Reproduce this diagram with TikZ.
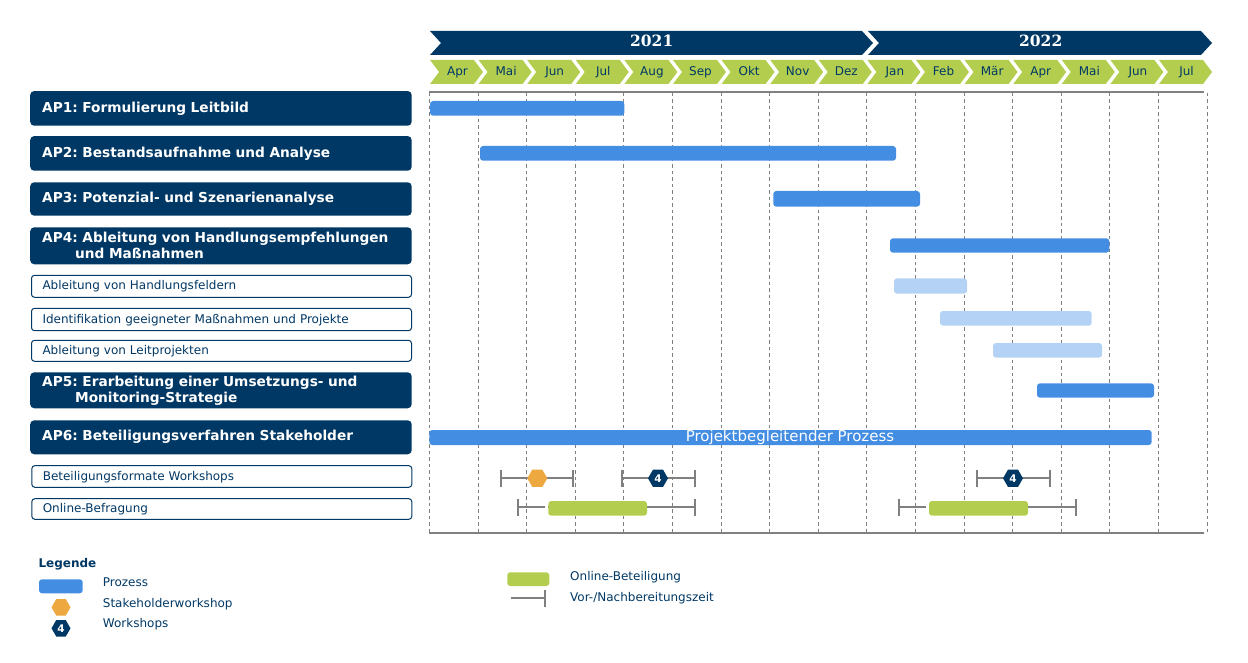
\documentclass[tikz,border=0pt]{standalone}
\usepackage{fontspec}
\setmainfont{DejaVu Sans}
\newfontfamily\yearfont{DejaVu Serif}
\usetikzlibrary{shapes.geometric}
\definecolor{navy}{HTML}{003865}
\definecolor{lgreen}{HTML}{B3CE4E}
\definecolor{barblue}{HTML}{438DE2}
\definecolor{lightblue}{HTML}{B4D2F5}
\definecolor{orng}{HTML}{EDA83F}
\definecolor{grayl}{HTML}{808080}
\frenchspacing
\begin{document}
\begin{tikzpicture}[x=1pt,y=-1pt,
  darkbox/.style={fill=navy,draw=none,rounded corners=4pt,text=white,anchor=west,
    inner xsep=12pt,inner ysep=0pt,text width=357.5pt,align=left,
    font=\bfseries\fontsize{13.7}{16}\selectfont},
  whitebox/.style={fill=white,draw=navy,line width=1pt,rounded corners=3pt,text=navy,anchor=west,
    inner xsep=11pt,inner ysep=0pt,text width=358pt,align=left,
    text height=0.73em,text depth=0pt,font=\fontsize{12}{14}\selectfont},
  monthlbl/.style={text=navy,inner sep=0pt,text height=0.73em,text depth=0pt,font=\fontsize{12}{14}\selectfont},
  yearlbl/.style={text=white,inner sep=0pt,text height=0.73em,text depth=0pt,font=\yearfont\bfseries\fontsize{15.5}{17}\selectfont},
  leglbl/.style={text=navy,inner sep=0pt,anchor=west,text height=0.73em,text depth=0pt,font=\fontsize{12}{14}\selectfont},
  prozbar/.style={fill=barblue,rounded corners=3pt},
  subbar/.style={fill=lightblue,rounded corners=3pt},
  onlbar/.style={fill=lgreen,rounded corners=3pt},
  whisk/.style={draw=grayl,line width=2pt},
  grid/.style={draw=grayl,line width=1.1pt,dash pattern=on 3.5pt off 3pt},
  hexo/.style={regular polygon,regular polygon sides=6,minimum size=20pt,inner sep=0pt,fill=orng},
  hexn/.style={regular polygon,regular polygon sides=6,minimum size=20pt,inner sep=0pt,fill=navy,
    text=white,font=\bfseries\fontsize{10.5}{10.5}\selectfont}
]
\useasboundingbox (0,0) rectangle (1248,663);

% year bands
\fill[navy] (430,31) -- (862,31) -- (873,43) -- (862,55) -- (430,55) -- (441,43) -- cycle;
\fill[navy] (868,31) -- (1201,31) -- (1212,43) -- (1201,55) -- (868,55) -- (879,43) -- cycle;
\node[yearlbl] (y21) at (651.7,42.5) {2021};
\node[yearlbl] (y22) at (1040.7,42.5) {2022};

% month chevrons
\foreach \m [count=\k from 0] in {Apr,Mai,Jun,Jul,Aug,Sep,Okt,Nov,Dez,Jan,Feb,Mär,Apr,Mai,Jun,Jul}{
  \pgfmathsetmacro\L{430+48.6*\k}
  \fill[lgreen] (\L,60) -- ++(44,0) -- ++(9,12) -- ++(-9,12) -- ++(-44,0) -- ++(9,-12) -- cycle;
  \node[monthlbl] (m\k) at (\L+27.5,72) {\m};
}

% grid
\foreach \k in {0,...,16}{
  \draw[grid] ({429.5+48.6*\k},93) -- ({429.5+48.6*\k},532);
}
\draw[draw=grayl,line width=2.2pt] (429,92) -- (1204,92);
\draw[draw=grayl,line width=2.2pt] (429,533) -- (1204,533);

% left labels
\node[darkbox,minimum height=34.7pt,text height=0.73em,text depth=0pt] (ap1) at (30,108.4) {AP1: Formulierung Leitbild};
\node[darkbox,minimum height=34.7pt,text height=0.73em,text depth=0pt] (ap2) at (30,153.4) {AP2: Bestandsaufnahme und Analyse};
\node[darkbox,minimum height=33.4pt,text height=0.73em,text depth=0pt] (ap3) at (30,199) {AP3: Potenzial- und Szenarienanalyse};
\node[darkbox,minimum height=37pt] (ap4) at (30,245.8) {AP4: Ableitung von Handlungsempfehlungen\\\hspace*{33pt}und Maßnahmen};
\node[whitebox,minimum height=22pt] (hf) at (31,286.3) {Ableitung von Handlungsfeldern};
\node[whitebox,minimum height=22.4pt] (im) at (31,319.5) {Identifikation geeigneter Maßnahmen und Projekte};
\node[whitebox,minimum height=21pt] (lp) at (31,350.8) {Ableitung von Leitprojekten};
\node[darkbox,minimum height=36pt] (ap5) at (30,390.3) {AP5: Erarbeitung einer Umsetzungs- und\\\hspace*{33pt}Monitoring-Strategie};
\node[darkbox,minimum height=34pt,text height=0.73em,text depth=0pt] (ap6) at (30,437.3) {AP6: Beteiligungsverfahren Stakeholder};
\node[whitebox,minimum height=21.6pt] (bw) at (31.3,476.5) {Beteiligungsformate Workshops};
\node[whitebox,minimum height=20.6pt] (ob) at (31.3,509) {Online-Befragung};

% bars
\fill[prozbar] (430,101) rectangle (624.3,115.7);
\fill[prozbar] (480,146) rectangle (896,160.7);
\fill[prozbar] (773.3,191) rectangle (920,206.7);
\fill[prozbar] (890,238.3) rectangle (1109.3,252.7);
\fill[subbar] (894,278.3) rectangle (967,293.7);
\fill[subbar] (940,311) rectangle (1091.7,325.7);
\fill[subbar] (993,343) rectangle (1102,357.7);
\fill[prozbar] (1037,383.3) rectangle (1154,397.7);
\fill[prozbar] (429.3,430) rectangle (1151.7,445);
\node[text=white,inner sep=0pt,text height=0.73em,text depth=0pt,font=\fontsize{15}{17}\selectfont] (pbp) at (790,437.5) {Projektbegleitender Prozess};

% workshop whiskers
\coordinate (w1a) at (501,478.3); \coordinate (w1b) at (572.7,478.3);
\coordinate (w2a) at (622.3,478.3); \coordinate (w2b) at (695,478.3);
\coordinate (w3a) at (977,478.3); \coordinate (w3b) at (1050,478.3);
\foreach \a/\b in {w1a/w1b,w2a/w2b,w3a/w3b}{
  \draw[whisk] (\a) -- (\b);
  \draw[whisk] ([yshift=-8.5pt]\a) -- ([yshift=8.5pt]\a);
  \draw[whisk] ([yshift=-8.5pt]\b) -- ([yshift=8.5pt]\b);
}
\node[hexo] (h1) at (537.3,478.3) {};
\node[hexn] (h2) at (658,478.3) {4};
\node[hexn] (h3) at (1013,478.3) {4};

% online whiskers
\coordinate (o1a) at (518.3,507.3); \coordinate (o1b) at (695,507.3);
\coordinate (o2a) at (899,507.3); \coordinate (o2b) at (1076,507.3);
\foreach \a/\b in {o1a/o1b,o2a/o2b}{
  \draw[whisk] (\a) -- (\b);
  \draw[whisk] ([yshift=-8.7pt]\a) -- ([yshift=8.7pt]\a);
  \draw[whisk] ([yshift=-8.7pt]\b) -- ([yshift=8.7pt]\b);
}
\fill[white] (545,505) rectangle (548.3,510);
\fill[onlbar] (548.3,501) rectangle (647,515.7);
\fill[white] (926,505) rectangle (929,510);
\fill[onlbar] (929,501) rectangle (1028,515.7);

% legend
\node[text=navy,inner sep=0pt,anchor=west,text height=0.73em,text depth=0pt,font=\bfseries\fontsize{12}{14}\selectfont] (leg) at (38.3,564) {Legende};
\fill[prozbar] (39,579.3) rectangle (82.7,593.3);
\node[leglbl] (lp1) at (102.7,582.7) {Prozess};
\node[hexo,minimum size=19pt] (lh1) at (61,607.3) {};
\node[leglbl] (lp2) at (102.7,603.5) {Stakeholderworkshop};
\node[hexn,minimum size=19pt] (lh2) at (61,628.3) {4};
\node[leglbl] (lp3) at (102.7,624) {Workshops};
\fill[onlbar] (507.3,572.3) rectangle (549.3,586);
\node[leglbl] (lp4) at (570,577) {Online-Beteiligung};
\coordinate (lwa) at (510.7,597.7); \coordinate (lwb) at (545,597.7);
\draw[whisk] (lwa) -- (lwb);
\draw[whisk] (545,590) -- (545,606.7);
\node[leglbl] (lp5) at (570,597.5) {Vor-/Nachbereitungszeit};
\end{tikzpicture}
\end{document}
